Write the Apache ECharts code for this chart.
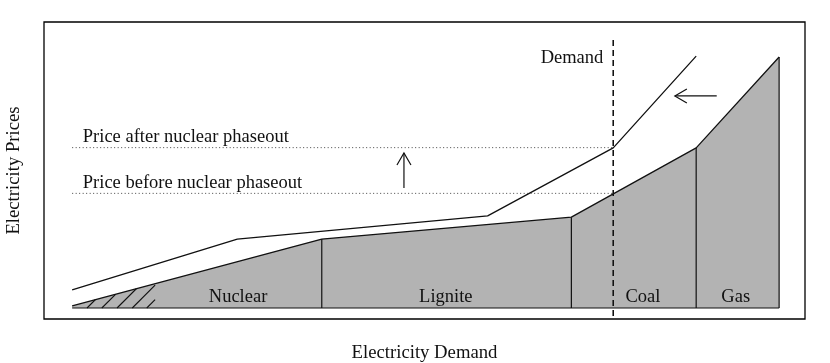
<!DOCTYPE html>
<html>
<head>
<meta charset="utf-8">
<script src="https://cdn.jsdelivr.net/npm/echarts@6/dist/echarts.min.js"></script>
<style>
    html, body { margin: 0; padding: 0; background: #fff; }
    #chart { width: 830px; height: 363px; }
</style>
</head>
<body>
<div id="chart"></div>
<script>
// merit order curve, units are arbitrary (0-100 demand, price above baseline)
const beforeX = [3.7, 36.5, 69.3, 85.7, 96.6];
const beforeY = [0.7, 23.2, 30.6, 53.9, 84.5];
const afterX = [3.7, 25.4, 58.3, 74.8, 85.7];
const afterY = [6.1, 23.2, 31.0, 53.9, 84.8];

const plants = ['Nuclear', 'Lignite', 'Coal', 'Gas'];
const plantLabelX = [25.5, 52.8, 78.7, 90.9];
const plantLabelY = 3.7;

const demandX = 74.8;
const demandTop = 90.2;
const priceBefore = 38.6;
const priceAfter = 54.0;
const priceLineStart = 3.7;

// hatched part of nuclear, start points on the baseline
const hatchStarts = [5.65, 7.6, 9.6, 11.6, 13.5];
const hatchLimit = 14.6;

// arrows [x1, y1, x2, y2], head at second point
const arrows = [
    [47.3, 40.4, 47.3, 52.2],
    [88.4, 71.4, 82.9, 71.4]
];

const texts = [
    { value: [5.1, 57.6], name: 'Price after nuclear phaseout', pos: 'right' },
    { value: [5.1, 42.1], name: 'Price before nuclear phaseout', pos: 'right' },
    { value: [73.5, 84.2], name: 'Demand', pos: 'left' }
];

const font = '"Liberation Serif", "DejaVu Serif", serif';
const ink = '#111';

function zip(xs, ys) {
    return xs.map(function (x, i) { return [x, ys[i]]; });
}

const chart = echarts.init(document.getElementById('chart'));

const dividerSeries = beforeX.slice(1).map(function (x, i) {
    return {
        type: 'line',
        data: [[x, 0], [x, beforeY[i + 1]]],
        symbol: 'none',
        silent: true,
        lineStyle: { color: ink, width: 1.2 },
        z: 3
    };
});

const option = {
    animation: false,
    grid: {
        left: 44, right: 25, top: 22, bottom: 44,
        outerBoundsMode: 'none',
        containLabel: false,
        show: true,
        borderColor: '#000',
        borderWidth: 1.3,
        backgroundColor: '#fff'
    },
    xAxis: {
        type: 'value',
        min: 0,
        max: 100,
        name: 'Electricity Demand',
        nameLocation: 'middle',
        nameGap: 25,
        nameTextStyle: { fontFamily: font, fontSize: 18.7, color: ink },
        axisLine: { show: false },
        axisTick: { show: false },
        axisLabel: { show: false },
        splitLine: { show: false }
    },
    yAxis: {
        type: 'value',
        min: -3.7,
        max: 96.3,
        name: 'Electricity Prices',
        nameLocation: 'middle',
        nameGap: 20,
        nameTextStyle: { fontFamily: font, fontSize: 18.7, color: ink },
        axisLine: { show: false },
        axisTick: { show: false },
        axisLabel: { show: false },
        splitLine: { show: false }
    },
    series: [
        {
            type: 'line',
            data: zip(beforeX, beforeY),
            symbol: 'none',
            silent: true,
            lineStyle: { color: ink, width: 1.3 },
            areaStyle: { color: '#b3b3b3', opacity: 1, origin: 0 },
            z: 2
        },
        {
            type: 'line',
            data: [[beforeX[0], 0], [beforeX[beforeX.length - 1], 0]],
            symbol: 'none',
            silent: true,
            lineStyle: { color: ink, width: 1.2 },
            z: 3
        }
    ].concat(dividerSeries).concat([
        {
            type: 'line',
            data: zip(afterX, afterY),
            symbol: 'none',
            silent: true,
            lineStyle: { color: ink, width: 1.3 },
            z: 3
        },
        {
            type: 'line',
            data: [[priceLineStart, priceAfter], [demandX, priceAfter]],
            symbol: 'none',
            silent: true,
            lineStyle: { color: '#444', width: 1, type: [1, 2.5] },
            z: 3
        },
        {
            type: 'line',
            data: [[priceLineStart, priceBefore], [demandX, priceBefore]],
            symbol: 'none',
            silent: true,
            lineStyle: { color: '#444', width: 1, type: [1, 2.5] },
            z: 3
        },
        {
            type: 'line',
            data: [[demandX, demandTop], [demandX, -3.7]],
            symbol: 'none',
            silent: true,
            lineStyle: { color: ink, width: 1.6, type: [6, 4] },
            z: 4
        },
        {
            // hatching: 45 degree strokes from the baseline up to the curve
            type: 'custom',
            silent: true,
            data: hatchStarts,
            z: 4,
            renderItem: function (params, api) {
                const x0 = api.value(0);
                const p0 = api.coord([x0, 0]);
                const lim = api.coord([hatchLimit, 0])[0];
                const pts = zip(beforeX, beforeY).map(function (d) { return api.coord(d); });
                let end = null;
                for (let i = 0; i < pts.length - 1 && !end; i++) {
                    const a = pts[i], b = pts[i + 1];
                    const k = (b[1] - a[1]) / (b[0] - a[0]);
                    // line: y = p0y - (x - p0x); curve: y = a1 + k (x - a0)
                    const x = (p0[1] + p0[0] - a[1] + k * a[0]) / (1 + k);
                    if (x >= a[0] && x <= b[0]) end = [x, p0[1] - (x - p0[0])];
                }
                if (end && end[0] > lim) end = [lim, p0[1] - (lim - p0[0])];
                return {
                    type: 'line',
                    shape: { x1: p0[0], y1: p0[1], x2: end[0], y2: end[1] },
                    style: { stroke: ink, lineWidth: 1.1 }
                };
            }
        },
        {
            type: 'custom',
            silent: true,
            data: arrows,
            z: 5,
            renderItem: function (params, api) {
                const a = api.coord([api.value(0), api.value(1)]);
                const b = api.coord([api.value(2), api.value(3)]);
                const dx = b[0] - a[0], dy = b[1] - a[1];
                const len = Math.sqrt(dx * dx + dy * dy);
                const ux = dx / len, uy = dy / len;
                const hl = 12, hw = 7;
                const bx = b[0] - ux * hl, by = b[1] - uy * hl;
                return {
                    type: 'group',
                    children: [
                        {
                            type: 'line',
                            shape: { x1: a[0], y1: a[1], x2: b[0], y2: b[1] },
                            style: { stroke: ink, lineWidth: 1.2 }
                        },
                        {
                            type: 'polyline',
                            shape: { points: [[bx - uy * hw, by + ux * hw], b, [bx + uy * hw, by - ux * hw]] },
                            style: { stroke: ink, lineWidth: 1.2, fill: null }
                        }
                    ]
                };
            }
        },
        {
            type: 'scatter',
            silent: true,
            symbolSize: 0,
            itemStyle: { opacity: 1 },
            data: plants.map(function (p, i) { return { value: [plantLabelX[i], plantLabelY], name: p }; }),
            label: {
                show: true,
                position: 'inside',
                formatter: '{b}',
                fontFamily: font,
                fontSize: 18.5,
                color: ink,
                opacity: 1
            },
            z: 6
        },
        {
            type: 'scatter',
            silent: true,
            symbolSize: 0,
            itemStyle: { opacity: 1 },
            data: texts.map(function (t) {
                return {
                    value: t.value,
                    name: t.name,
                    label: { position: t.pos }
                };
            }),
            label: {
                show: true,
                distance: 0,
                formatter: '{b}',
                fontFamily: font,
                fontSize: 18.5,
                color: ink,
                opacity: 1
            },
            z: 6
        }
    ])
};

chart.setOption(option);
</script>
</body>
</html>
